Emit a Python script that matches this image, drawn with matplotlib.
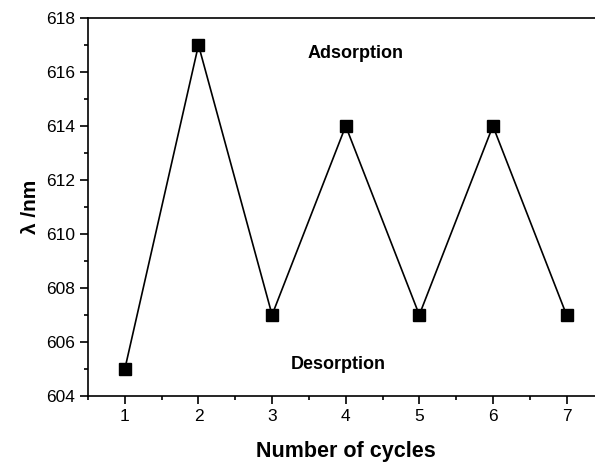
import matplotlib
matplotlib.use("Agg")
import matplotlib.pyplot as plt
from matplotlib.ticker import MultipleLocator

plt.rcParams['font.family'] = ['Liberation Sans', 'DejaVu Sans']

cycles = [1, 2, 3, 4, 5, 6, 7]
wavelength = [605, 617, 607, 614, 607, 614, 607]

fig = plt.figure(figsize=(5.95, 4.63), dpi=100)
ax = fig.add_axes([0.148, 0.145, 0.866, 0.816])

ax.plot(cycles, wavelength, color='black', lw=1.2, marker='s', ms=8,
        mfc='black', mec='black')

ax.set_xlim(0.5, 7.5)
ax.set_ylim(604, 618)
ax.xaxis.set_major_locator(MultipleLocator(1))
ax.xaxis.set_minor_locator(MultipleLocator(0.5))
ax.yaxis.set_major_locator(MultipleLocator(2))
ax.yaxis.set_minor_locator(MultipleLocator(1))
ax.tick_params(which='both', direction='out', labelsize=12.5, width=1.2)
ax.tick_params(which='major', length=6)
ax.tick_params(which='minor', length=3)
ax.tick_params(top=False, right=False)
for s in ax.spines.values():
    s.set_linewidth(1.2)
ax.spines['right'].set_visible(False)

ax.text(4.13, 616.7, 'Adsorption', fontsize=13, fontweight='bold',
        ha='center', va='center')
ax.text(3.9, 605.15, 'Desorption', fontsize=13, fontweight='bold',
        ha='center', va='center')

ax.set_xlabel('Number of cycles', fontsize=15.5, fontweight='bold', labelpad=12)
ax.set_ylabel('λ /nm', fontsize=15, fontweight='bold', labelpad=4)

fig.savefig('out.png', dpi=100)
